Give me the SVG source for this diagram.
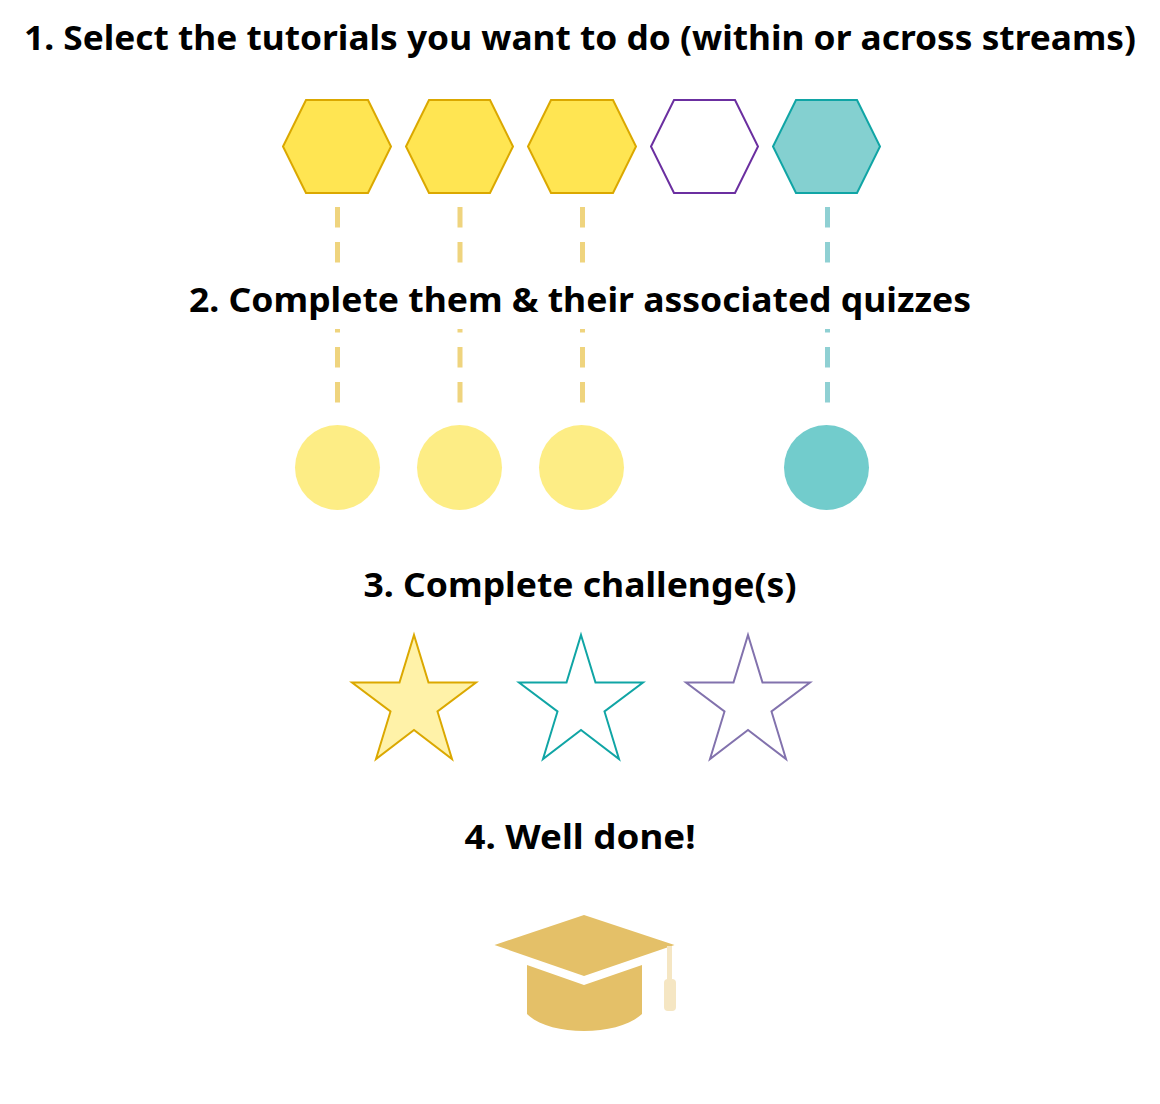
<svg xmlns="http://www.w3.org/2000/svg" width="1160" height="1104" viewBox="0 0 1160 1104">
<style>
text{font-family:"Noto Sans","Open Sans","Liberation Sans",sans-serif;font-weight:700;font-size:34px;fill:#000;text-anchor:middle}
.hex,.star{stroke-width:2}
.y{fill:#ffe552;stroke:#dba800}
.p{fill:#fff;stroke:#6b2fa0}
.t{fill:#84d0d0;stroke:#10a5a5}
.dash{stroke-width:5;stroke-dasharray:20.500 14.500;fill:none}
.dy{stroke:#efd47e}
.dt{stroke:#8fd0d3}
</style>
<rect width="1160" height="1104" fill="#fff"/>
<g id="title-1"><text x="580" y="50" textLength="1112" lengthAdjust="spacingAndGlyphs">1. Select the tutorials you want to do (within or across streams)</text></g>
<g id="title-2"><text x="580" y="312" textLength="782" lengthAdjust="spacingAndGlyphs">2. Complete them &amp; their associated quizzes</text></g>
<g id="title-3"><text x="580" y="597" textLength="433" lengthAdjust="spacingAndGlyphs">3. Complete challenge(s)</text></g>
<g id="title-4"><text x="580" y="849" textLength="231" lengthAdjust="spacingAndGlyphs">4. Well done!</text></g>
<defs><clipPath id="lower"><rect x="0" y="329" width="1160" height="80"/></clipPath></defs>
<g id="connectors">
<path class="dash dy" d="M337.500 207V263M460 207V263M582.500 207V263"/>
<path class="dash dt" d="M827.500 207V263"/>
<path class="dash dy" d="M337.500 312V403M460 312V403M582.500 312V403" clip-path="url(#lower)"/>
<path class="dash dt" d="M827.500 312V403" clip-path="url(#lower)"/>
</g>
<g id="hex-1"><polygon class="hex y" points="283,146.500 306,100 368,100 391,146.500 368,193 306,193"/></g>
<g id="hex-2"><polygon class="hex y" points="406,146.500 429,100 490,100 513,146.500 490,193 429,193"/></g>
<g id="hex-3"><polygon class="hex y" points="528,146.500 551,100 613,100 636,146.500 613,193 551,193"/></g>
<g id="hex-4"><polygon class="hex p" points="651,146.500 674,100 735,100 758,146.500 735,193 674,193"/></g>
<g id="hex-5"><polygon class="hex t" points="773,146.500 796,100 857,100 880,146.500 857,193 796,193"/></g>
<g id="circle-1"><circle cx="337.500" cy="467.500" r="42.500" fill="#fded85"/></g>
<g id="circle-2"><circle cx="459.500" cy="467.500" r="42.500" fill="#fded85"/></g>
<g id="circle-3"><circle cx="581.500" cy="467.500" r="42.500" fill="#fded85"/></g>
<g id="circle-4"><circle cx="826.500" cy="467.500" r="42.500" fill="#72cccc"/></g>
<g id="star-1"><polygon class="star" fill="#fff2a8" stroke="#dba800" points="414,635 428.500,682.500 476,682.500 437.500,711.500 452,759 414,730 376,759 390.500,711.500 352,682.500 399.500,682.500"/></g>
<g id="star-2"><polygon class="star" fill="#fff" stroke="#10a5a5" points="581,635 595.500,682.500 643,682.500 604.500,711.500 619,759 581,730 543,759 557.500,711.500 519,682.500 566.500,682.500"/></g>
<g id="star-3"><polygon class="star" fill="#fff" stroke="#8272ad" points="748,635 762.500,682.500 810,682.500 771.500,711.500 786,759 748,730 710,759 724.500,711.500 686,682.500 733.500,682.500"/></g>
<g id="cap">
<polygon fill="#e4c068" points="494.500,945 584,915 674.500,945 584,976"/>
<path fill="#e4c068" d="M527 965L584 985L642 965V1014C630 1025 608 1031 584 1031C560 1031 538 1025 527 1014Z"/>
<rect x="667" y="946" width="5" height="34" fill="#f5e6c3"/>
<rect x="664" y="979" width="12" height="32" rx="4" fill="#f5e6c3"/>
</g>
</svg>
